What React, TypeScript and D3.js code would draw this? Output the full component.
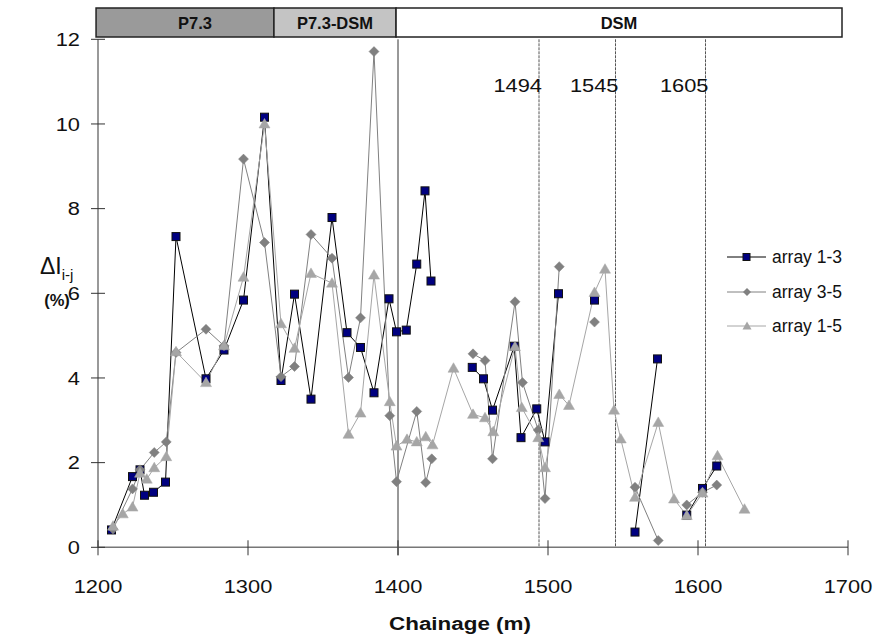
import React from "react";
import * as d3 from "d3";

const xTicks = [1200, 1300, 1400, 1500, 1600, 1700];
const yTicks = [0, 2, 4, 6, 8, 10, 12];

// array 1-3 (null = break in line)
const a13X = [1209, 1223, 1228, 1231, 1237, 1245, 1252, 1272, 1284, 1297, 1311, 1322, 1331, 1342, 1356, 1366, 1375, 1384, 1394, 1399, 1405.5, 1412.5, 1418, 1422, null, 1449.5, 1457, 1463, 1477.5, 1482, 1492.5, 1498, 1507, null, 1531, null, 1558, 1573, null, 1592.5, 1603, 1612.5];
const a13Y = [0.41, 1.67, 1.83, 1.23, 1.30, 1.54, 7.34, 3.98, 4.66, 5.84, 10.16, 3.94, 5.98, 3.50, 7.79, 5.07, 4.72, 3.65, 5.87, 5.09, 5.13, 6.69, 8.42, 6.29, null, 4.25, 3.98, 3.24, 4.75, 2.59, 3.27, 2.49, 5.99, null, 5.84, null, 0.36, 4.45, null, 0.76, 1.39, 1.92];

// array 3-5
const a35X = [1210, 1223, 1228, 1237.5, 1245.5, 1252, 1272, 1284, 1297, 1311, 1322, 1331, 1342, 1356, 1367, 1375, 1384, 1394.5, 1399, 1412.5, 1418.5, 1422.5, null, 1450, 1458, 1463, 1478, 1483, 1493.5, 1498, 1507.5, null, 1531, null, 1558, 1573.5, null, 1592.5, 1603, 1612.5];
const a35Y = [0.43, 1.38, 1.83, 2.24, 2.49, 4.6, 5.15, 4.76, 9.17, 7.20, 4.03, 4.27, 7.39, 6.83, 4.01, 5.42, 11.71, 3.11, 1.55, 3.21, 1.53, 2.09, null, 4.57, 4.41, 2.09, 5.80, 3.89, 2.77, 1.15, 6.63, null, 5.32, null, 1.42, 0.16, null, 1.0, 1.3, 1.47];

// array 1-5
const a15X = [1210, 1216.5, 1223, 1228, 1232.5, 1237.5, 1245.5, 1252, 1272, 1284, 1297, 1311, 1322, 1331, 1342, 1356, 1367, 1375, 1384, 1394.5, 1399, 1406, 1412.5, 1418.5, 1423, 1437, 1450, 1458, 1463.5, 1478, 1482.5, 1493.5, 1498, 1507.5, 1514, 1531, 1538, 1544, 1548.5, 1558, 1573.5, 1584, 1592.5, 1603, 1613, 1631];
const a15Y = [0.50, 0.79, 0.95, 1.75, 1.61, 1.88, 2.14, 4.62, 3.89, 4.76, 6.38, 10.0, 5.28, 4.70, 6.47, 6.24, 2.67, 3.17, 6.43, 3.44, 2.39, 2.55, 2.49, 2.61, 2.42, 4.23, 3.14, 3.06, 2.73, 4.74, 3.30, 2.59, 1.88, 3.61, 3.35, 6.02, 6.57, 3.24, 2.56, 1.18, 2.95, 1.14, 0.75, 1.28, 2.16, 0.90];

const bandNames = ["P7.3", "P7.3-DSM", "DSM"];
const bandStart = [1198.7, 1317.3, 1398.7];
const bandEnd = [1317.3, 1398.7, 1696];
const bandFill = ["#9a9a9a", "#c4c4c4", "#ffffff"];

const solidLines = [1400];
const markLines = [1494, 1545, 1605];
const markLabels = ["1494", "1545", "1605"];

const seriesNames = ["array 1-3", "array 3-5", "array 1-5"];

const FONT = "'Liberation Sans', Arial, Helvetica, sans-serif";
const SX = 1.18;

type Pt = { x: number | null; y: number | null };
const zip = (xs: (number | null)[], ys: (number | null)[]): Pt[] => xs.map((v, i) => ({ x: v, y: ys[i] }));

export default function App() {
  const x = d3.scaleLinear().domain([1200, 1700]).range([98, 848]);
  const y = d3.scaleLinear().domain([0, 12]).range([547.3, 39.3]);
  const line = d3
    .line<Pt>()
    .defined((d) => d.x != null && d.y != null)
    .x((d) => x(d.x as number))
    .y((d) => y(d.y as number));

  const s13 = zip(a13X, a13Y);
  const s35 = zip(a35X, a35Y);
  const s15 = zip(a15X, a15Y);
  const valid = (p: Pt) => p.x != null && p.y != null;

  const square = (cx: number, cy: number, k: string) => (
    <rect key={k} x={cx - 4} y={cy - 4} width={8} height={8} fill="#000080" stroke="#111" strokeWidth={1} />
  );
  const diamond = (cx: number, cy: number, k: string) => (
    <path key={k} d={`M${cx},${cy - 5}L${cx + 5},${cy}L${cx},${cy + 5}L${cx - 5},${cy}Z`} fill="#808080" stroke="#808080" strokeWidth={0.5} />
  );
  const tri = (cx: number, cy: number, k: string) => (
    <path key={k} d={`M${cx},${cy - 5.5}L${cx + 5.5},${cy + 4}L${cx - 5.5},${cy + 4}Z`} fill="#a6a6a6" stroke="#a6a6a6" strokeWidth={0.5} />
  );

  const yAxisX = x(1200);
  const xAxisY = y(0);

  const legendY = [257, 292, 326];
  const legendColors = ["#000", "#808080", "#a6a6a6"];

  const stretched = (tx: number, ty: number, content: React.ReactNode, anchor: string, size: number, extra: any = {}) => (
    <text transform={`translate(${tx},${ty}) scale(${SX},1)`} textAnchor={anchor} fontSize={size} fill="#111" {...extra}>
      {content}
    </text>
  );

  return (
    <svg width={874} height={636} style={{ position: "absolute", left: 0, top: 0, background: "#fff" }} fontFamily={FONT}>
      {/* band */}
      {bandNames.map((n, i) => (
        <g key={n}>
          <rect x={x(bandStart[i])} y={8} width={x(bandEnd[i]) - x(bandStart[i])} height={29} fill={bandFill[i]} stroke="#222" strokeWidth={1.5} />
          <text x={(x(bandStart[i]) + x(bandEnd[i])) / 2 + (i === 0 ? 10 : 0)} y={28.5} textAnchor="middle" fontWeight="bold" fontSize={16.5} fill="#111">
            {n}
          </text>
        </g>
      ))}

      {/* vertical reference lines */}
      {solidLines.map((v) => (
        <line key={v} x1={x(v)} x2={x(v)} y1={y(12)} y2={xAxisY + 8} stroke="#333" strokeWidth={1} />
      ))}
      {markLines.map((v, i) => (
        <g key={v}>
          <line x1={x(v)} x2={x(v)} y1={y(12)} y2={xAxisY} stroke="#555" strokeWidth={1} strokeDasharray="3,1" />
          {stretched(x(v) + 3, 92, markLabels[i], "end", 18.5)}
        </g>
      ))}

      {/* axes */}
      <line x1={yAxisX} x2={yAxisX} y1={y(12)} y2={xAxisY} stroke="#777" strokeWidth={1.5} />
      <line x1={yAxisX} x2={x(1700)} y1={xAxisY} y2={xAxisY} stroke="#777" strokeWidth={1.5} />
      {yTicks.map((t) => (
        <g key={t}>
          <line x1={yAxisX - 7} x2={yAxisX + 7} y1={y(t)} y2={y(t)} stroke="#333" strokeWidth={1} />
          {stretched(80, y(t) + 6.7, t, "end", 18.5)}
        </g>
      ))}
      {xTicks.map((t) => (
        <g key={t}>
          <line x1={x(t)} x2={x(t)} y1={xAxisY - 7} y2={xAxisY + 8} stroke="#333" strokeWidth={1} />
          {stretched(x(t), 593, t, "middle", 18.5)}
        </g>
      ))}
      {stretched(460, 630, "Chainage (m)", "middle", 19, { fontWeight: "bold" })}
      <text x={40} y={274} fontSize={23} fill="#111">
        ΔI<tspan fontSize={15} dy={6}>i-j</tspan>
      </text>
      <text x={57} y={306} textAnchor="middle" fontSize={16.5} fontWeight="bold" fill="#111">
        (%)
      </text>

      {/* series lines */}
      <path d={line(s13) || ""} fill="none" stroke="#000" strokeWidth={1} />
      <path d={line(s35) || ""} fill="none" stroke="#808080" strokeWidth={1} />
      <path d={line(s15) || ""} fill="none" stroke="#a6a6a6" strokeWidth={1} />
      {/* markers */}
      {s13.filter(valid).map((p, i) => square(x(p.x as number), y(p.y as number), "s" + i))}
      {s35.filter(valid).map((p, i) => diamond(x(p.x as number), y(p.y as number), "d" + i))}
      {s15.filter(valid).map((p, i) => tri(x(p.x as number), y(p.y as number), "t" + i))}

      {/* legend */}
      {seriesNames.map((n, i) => (
        <g key={n}>
          <line x1={727} x2={766} y1={legendY[i]} y2={legendY[i]} stroke={legendColors[i]} strokeWidth={1} />
          {i === 0 ? (
            <rect x={743} y={legendY[i] - 3.5} width={7} height={7} fill="#000080" stroke="#111" />
          ) : i === 1 ? (
            <path d={`M747,${legendY[i] - 4}L751,${legendY[i]}L747,${legendY[i] + 4}L743,${legendY[i]}Z`} fill="#808080" />
          ) : (
            <path d={`M747,${legendY[i] - 4.5}L751.5,${legendY[i] + 3.5}L742.5,${legendY[i] + 3.5}Z`} fill="#a6a6a6" />
          )}
          <text x={772} y={legendY[i]} dy="0.36em" fontSize={17.5} fill="#111">
            {n}
          </text>
        </g>
      ))}
    </svg>
  );
}
